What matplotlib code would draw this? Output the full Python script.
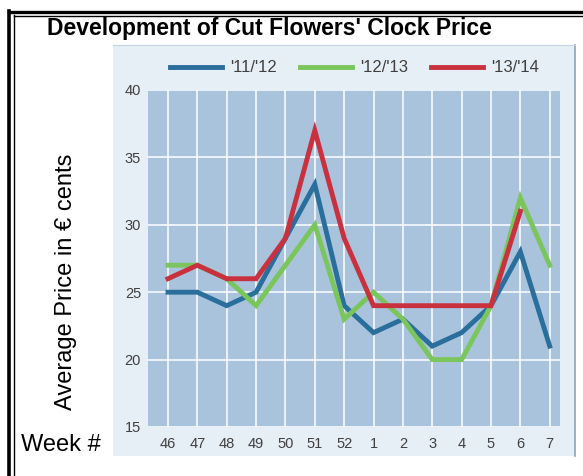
import matplotlib
matplotlib.use("Agg")
import matplotlib.pyplot as plt
from matplotlib.lines import Line2D
from matplotlib.patches import Rectangle

plt.rcParams['font.family'] = ['Liberation Sans', 'DejaVu Sans']

# semanas y precios medios (céntimos de euro)
weeks = ['46', '47', '48', '49', '50', '51', '52', '1', '2', '3', '4', '5', '6', '7']
p_11_12 = [25, 25, 24, 25, 29, 33, 24, 22, 23, 21, 22, 24, 28, 21]
p_12_13 = [27, 27, 26, 24, 27, 30, 23, 25, 23, 20, 20, 24, 32, 27]
p_13_14 = [26, 27, 26, 26, 29, 37, 29, 24, 24, 24, 24, 24, 31]
y_ticks = [15, 20, 25, 30, 35, 40]

W, H = 583, 476
fig = plt.figure(figsize=(W / 100, H / 100), dpi=100)
fig.patch.set_facecolor('white')

def fx(px):
    return px / W

def fy(py):
    return 1 - py / H

# marco doble exterior
fig.add_artist(Line2D([fx(9), fx(9)], [fy(11), fy(480)], lw=2.6, color='black'))
fig.add_artist(Line2D([fx(9), fx(590)], [fy(11.5), fy(11.5)], lw=2.4, color='black'))
fig.add_artist(Line2D([fx(13.5), fx(13.5)], [fy(15), fy(480)], lw=1.0, color='black'))
fig.add_artist(Line2D([fx(13.5), fx(590)], [fy(15.5), fy(15.5)], lw=1.0, color='black'))

# panel de fondo del gráfico
fig.add_artist(Rectangle((fx(113), fy(456)), fx(575) - fx(113), fy(45) - fy(456),
                         transform=fig.transFigure, facecolor='#e6eef6',
                         edgecolor='none', zorder=-5))
fig.add_artist(Line2D([fx(575), fx(575)], [fy(45), fy(456)], lw=1.2, color='#8ea4b8',
                      zorder=-4))
fig.add_artist(Line2D([fx(113), fx(575)], [fy(45), fy(45)], lw=0.8, color='#c3d2e0',
                      zorder=-4))

ax = fig.add_axes([fx(148), fy(427), fx(560) - fx(148), fy(90) - fy(427)])
ax.set_facecolor('#a9c3dd')
x = list(range(len(weeks)))
ax.plot(x, p_11_12, color='#2a6e9c', lw=3.5, label="'11/'12", solid_joinstyle='miter')
ax.plot(x, p_12_13, color='#7bc65c', lw=3.5, label="'12/'13", solid_joinstyle='miter')
ax.plot(x[:len(p_13_14)], p_13_14, color='#c9313f', lw=3.5, label="'13/'14",
        solid_joinstyle='miter')

ax.set_xlim(-0.68, 13.35)
ax.set_ylim(15, 40)
ax.set_xticks(x)
ax.set_xticklabels(weeks)
ax.set_yticks(y_ticks)
ax.grid(True, color='white', lw=1.1)
ax.set_axisbelow(True)
for s in ax.spines.values():
    s.set_visible(False)
ax.tick_params(length=0, labelsize=10.5, labelcolor='#404040')
ax.tick_params(axis='x', pad=7)
ax.tick_params(axis='y', pad=5)

ax.legend(loc='center left', bbox_to_anchor=(0.053, 1 + 22 / 337), ncol=3, frameon=False,
          fontsize=12, labelcolor='#404040', handlelength=3.1, handletextpad=0.5,
          columnspacing=1.4, borderaxespad=0, borderpad=0)

fig.text(fx(47), fy(35), "Development of Cut Flowers' Clock Price", fontsize=16.5,
         fontweight='bold', ha='left', va='baseline', color='black')
fig.text(fx(66), fy(282), "Average Price in \u20ac cents", fontsize=17, rotation=90,
         ha='center', va='center', color='black')
fig.text(fx(21), fy(451), "Week #", fontsize=17, ha='left', va='baseline', color='black')

fig.savefig('out.png', dpi=100)
